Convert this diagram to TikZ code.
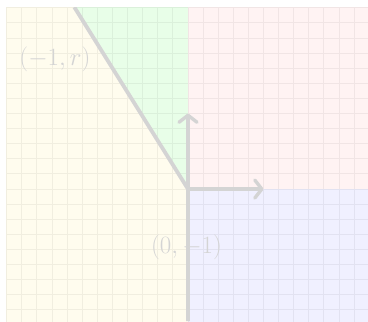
\documentclass[tikz,border=0pt]{standalone}
\usetikzlibrary{arrows.meta}
\definecolor{fyel}{HTML}{FFFCEE}
\definecolor{fgrn}{HTML}{E8FEE8}
\definecolor{fpnk}{HTML}{FFF3F3}
\definecolor{fblu}{HTML}{F0F0FF}
\definecolor{lgray}{HTML}{D4D4D4}
\definecolor{tgray}{HTML}{D4D4D4}
\tikzset{
  gridline/.style={draw=black,draw opacity=0.055,line width=1pt},
  thickline/.style={draw=lgray,line width=3.8pt},
  axisarrow/.style={draw=lgray,line width=3.4pt,-{Straight Barb[length=7pt,width=18pt,line cap=round,line join=round]}},
  lbl/.style={text=tgray,font=\fontsize{28pt}{32pt}\selectfont,inner sep=0pt,anchor=base}
}
\begin{document}
\begin{tikzpicture}[x=15.1pt,y=15.1pt]
\useasboundingbox (-12.45,-8.74) rectangle (11.92,12.52);
\begin{scope}
\clip (-12.05,-9) rectangle (12.2,12.05);
\fill[fyel] (-12.05,-9) rectangle (0,12.05);
\fill[fgrn] (0,0) -- (-7.53,12.05) -- (0,12.05) -- cycle;
\fill[fpnk] (0,0) rectangle (12.2,12.05);
\fill[fblu] (0,-9) rectangle (12.2,0);
\draw[gridline,xstep=15.1pt,ystep=15.1pt] (-13,-10) grid (13,13);
\end{scope}
\node[lbl] (lA) at (-8.81,8.16) {$(-1,r)$};
\node[lbl] (lB) at (-0.1,-4.29) {$(0,-1)$};
\coordinate (O) at (0,0);
\coordinate (D) at (-7.53,12.05);
\coordinate (B) at (0,-8.74);
\coordinate (U) at (0,5);
\coordinate (R) at (5,0);
\begin{scope}
\clip (-12.05,-9) rectangle (12.2,12.05);
\draw[thickline] (D) -- (O) -- (B);
\end{scope}
\draw[axisarrow] (O) -- (U);
\draw[axisarrow] (O) -- (R);
\end{tikzpicture}
\end{document}
